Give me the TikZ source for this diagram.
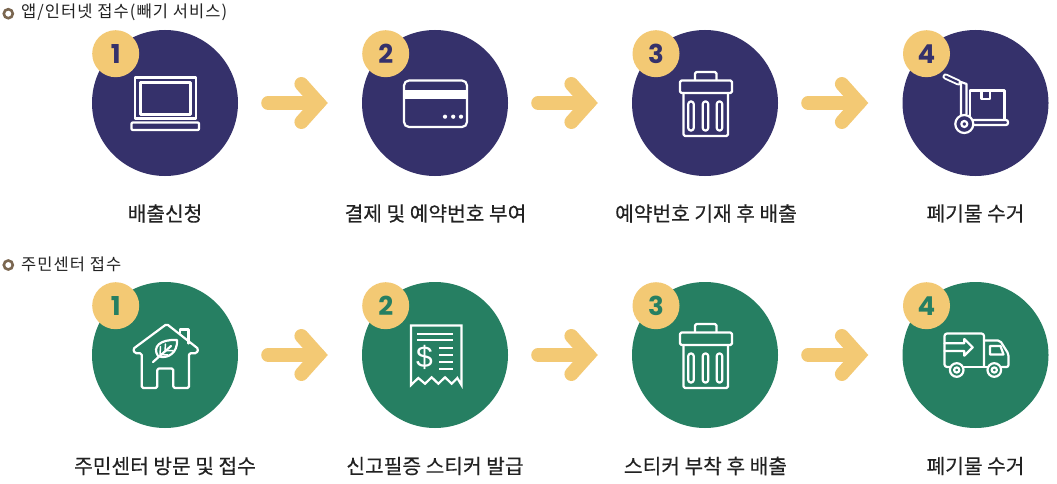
\documentclass[tikz,border=0pt]{standalone}
\usepackage{fontspec}
\usetikzlibrary{calc}
\setmainfont{Noto Sans CJK KR}
\newfontfamily\lblfont[FakeBold=0.3]{Noto Sans CJK KR}
\newfontfamily\headfont[LetterSpace=6.5]{Noto Sans CJK KR}
\newfontfamily\numfont{Poppins}
\newfontfamily\dollarfont{Liberation Sans}
\definecolor{navy}{HTML}{35316B}
\definecolor{leafgreen}{HTML}{267F62}
\definecolor{sunny}{HTML}{F3C974}
\definecolor{bulletbrown}{HTML}{7A6650}
\definecolor{inktext}{HTML}{222222}
\tikzset{
  stepdisc/.style={circle,minimum size=146pt,inner sep=0pt,fill=#1},
  stepbadge/.style={circle,minimum size=47pt,inner sep=0pt,fill=sunny,text=#1,
    font={\numfont\bfseries\fontsize{26}{26}\selectfont}},
  steplabel/.style={inner sep=0pt,text=inktext,font={\lblfont\fontsize{20.3}{22}\selectfont}},
  headlabel/.style={inner sep=0pt,anchor=west,text=inktext,font={\headfont\fontsize{16.5}{18}\selectfont}},
  bulletring/.style={circle,minimum size=9pt,inner sep=0pt,fill=white,draw=bulletbrown,line width=2.6pt},
  flowline/.style={draw=sunny,line width=14pt,line cap=round},
  iconline/.style={draw=white,line width=2.2pt,line join=round,line cap=round},
}
\newcommand{\flowarrow}[2]{%
  \path ([xshift=30]#1.east) coordinate (#1s) ([xshift=-43.4]#2.west) coordinate (#1t);
  \draw[flowline] (#1s) -- (#1t);
  \draw[flowline] ($(#1t)+(-17,-19)$) -- (#1t) -- ($(#1t)+(-17,19)$);
}
\newcommand{\trashicon}{%
  \draw[iconline,rounded corners=1.5pt] (695,80) -- (695,72) -- (716.5,72) -- (716.5,80);
  \draw[iconline,rounded corners=1.5pt] (680,80.5) rectangle (732,93);
  \draw[iconline,rounded corners=1.5pt] (683.5,93) -- (683.5,136) -- (728,136) -- (728,93);
  \foreach \x in {691,705.5,719.5}
    \draw[iconline,rounded corners=2.4pt] (\x-2.7,101.5) rectangle (\x+2.7,130.5);
}
\begin{document}
\begin{tikzpicture}[x=1pt,y=-1pt]
\useasboundingbox (0,0) rectangle (1057,484);
\fill[white] (0,0) rectangle (1057,484);

% headers
\node[bulletring] (b1) at (8.3,13.7) {};
\node[headlabel] (h1) at (21,12.5) {앱/인터넷 접수(빼기 서비스)};
\node[bulletring] (b2) at (8.3,265) {};
\node[headlabel] (h2) at (21,264) {주민센터 접수};

% discs
\node[stepdisc=navy] (a1) at (165,103) {};
\node[stepdisc=navy] (a2) at (435,103) {};
\node[stepdisc=navy] (a3) at (705,103) {};
\node[stepdisc=navy] (a4) at (975.5,103) {};
\node[stepdisc=leafgreen] (c1) at (165,355) {};
\node[stepdisc=leafgreen] (c2) at (435,355) {};
\node[stepdisc=leafgreen] (c3) at (705,355) {};
\node[stepdisc=leafgreen] (c4) at (975.5,355) {};

% badges
\node[stepbadge=navy] (na1) at (115.7,53.7) {1};
\node[stepbadge=navy] (na2) at (385.7,53.7) {2};
\node[stepbadge=navy] (na3) at (656,53.7) {3};
\node[stepbadge=navy] (na4) at (926.5,53.7) {4};
\node[stepbadge=leafgreen] (nc1) at (115.7,305.7) {1};
\node[stepbadge=leafgreen] (nc2) at (385.7,305.7) {2};
\node[stepbadge=leafgreen] (nc3) at (656,305.7) {3};
\node[stepbadge=leafgreen] (nc4) at (926.5,305.7) {4};

% arrows
\flowarrow{a1}{a2}
\flowarrow{a2}{a3}
\flowarrow{a3}{a4}
\flowarrow{c1}{c2}
\flowarrow{c2}{c3}
\flowarrow{c3}{c4}

% labels
\node[steplabel] (la1) at (165,213.5) {배출신청};
\node[steplabel] (la2) at (435.5,213.5) {결제 및 예약번호 부여};
\node[steplabel] (la3) at (706,213.5) {예약번호 기재 후 배출};
\node[steplabel] (la4) at (975.5,213.5) {폐기물 수거};
\node[steplabel] (lc1) at (165,466) {주민센터 방문 및 접수};
\node[steplabel] (lc2) at (435,466) {신고필증 스티커 발급};
\node[steplabel] (lc3) at (705.5,466) {스티커 부착 후 배출};
\node[steplabel] (lc4) at (975.5,466) {폐기물 수거};

% laptop
\draw[iconline] (135,77.5) rectangle (196,118.5);
\draw[iconline] (140.5,82.5) rectangle (190.5,114.5);
\draw[iconline,rounded corners=1pt] (131.5,122.5) rectangle (199,130);

% card
\draw[iconline,rounded corners=5pt] (404,80.5) rectangle (467,127);
\fill[white] (404,90) rectangle (467,99.5);
\foreach \x in {445,453.2,461} \fill[white] (\x,116.7) circle (2.1pt);

% trash (both rows)
\trashicon
\begin{scope}[shift={(0,252)}]
\trashicon
\end{scope}

% trolley
\draw[iconline] (970,116) -- (970,90.5) -- (1004.5,90.5) -- (1004.5,119.5);
\draw[iconline] (981.5,90.5) -- (981.5,99) -- (990,99) -- (990,90.5);
\draw[draw=white,line width=6pt,line cap=round] (945.5,76.5) -- (958.5,82.5);
\draw[draw=navy,line width=2.2pt,line cap=round] (945.5,76.5) -- (958.5,82.5);
\draw[iconline] (959.5,82) -- (961,84) -- (961,115);
\draw[iconline] (961,82) -- (966.5,84) -- (966.5,114);
\draw[iconline,rounded corners=2pt] (973.5,120) -- (1008,120) -- (1008,125) -- (973.5,125);
\draw[iconline] (964.3,124) circle (9pt);
\draw[iconline] (964.3,124) circle (3pt);

% house
\draw[iconline,rounded corners=1.5pt] (141.7,353.3) -- (135,353.3) -- (133,349) -- (166.7,324) -- (198.5,349) -- (196.5,353.3) -- (189,353.3) -- (189,388) -- (173.3,388) -- (173.3,368.5) -- (157.3,368.5) -- (157.3,388) -- (141.7,388) -- cycle;
\draw[iconline] (180,333) -- (180,329.5) -- (188.5,329.5) -- (188.5,343.5);
\draw[iconline] (158,356) .. controls (152,347) and (160,339) .. (177,340) .. controls (178,352) and (168,360) .. (158,356) -- cycle;
\draw[iconline] (153,362) -- (171,346);
\draw[iconline,line width=1.5pt] (160,354.5) -- (160.5,346.5) (165,350.5) -- (165.5,344) (160,354.5) -- (168,355) (165,350.5) -- (173,350.5);

% receipt
\draw[iconline,line join=miter] (411,385) -- (411,325.5) -- (461.5,325.5) -- (461.5,385) -- (457.3,378) -- (451.7,383.7) -- (445,377.3) -- (438.3,383.7) -- (431.7,377.3) -- (425,383.7) -- (418.3,378) -- cycle;
\draw[iconline,line cap=butt] (417.3,333.7) -- (453.3,333.7) (417.3,340.3) -- (453.3,340.3);
\draw[iconline,line cap=butt] (439.3,348) -- (453.3,348) (439.3,355) -- (453.3,355) (439.3,362) -- (453.3,362) (439.3,368.7) -- (453.3,368.7);
\node[inner sep=0pt,text=white,font={\dollarfont\fontsize{30}{30}\selectfont}] (dollar) at (424.5,357.5) {\$};

% truck
\draw[iconline,rounded corners=2.5pt] (950,367) -- (944.5,367) -- (944.5,333.5) -- (984,333.5) -- (984,367);
\draw[iconline] (963.8,367) -- (987.5,367);
\draw[iconline,rounded corners=2pt] (984,340.5) -- (1000,340.5) -- (1008.5,354) -- (1008.5,367) -- (1001.5,367);
\draw[iconline] (990,346) -- (1000.5,346) -- (1003.5,354.5) -- (990,354.5) -- cycle;
\draw[iconline] (944.5,343.3) -- (964.3,343.3) -- (964.3,339) -- (972.7,347.3) -- (964.3,355.7) -- (964.3,351) -- (944.5,351);
\draw[iconline] (956.7,370) circle (6.8pt);
\draw[iconline] (956.7,370) circle (2.6pt);
\draw[iconline] (994.3,370) circle (6.8pt);
\draw[iconline] (994.3,370) circle (2.6pt);
\end{tikzpicture}
\end{document}
